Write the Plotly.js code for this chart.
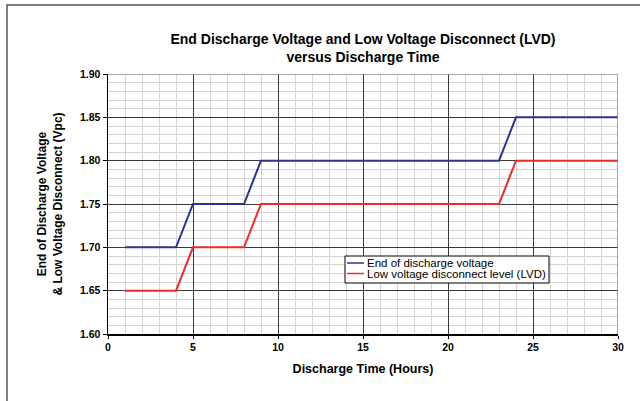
<!DOCTYPE html>
<html>
<head>
<meta charset="utf-8">
<script src="https://cdn.plot.ly/plotly-3.0.1.min.js"></script>
<style>html,body{margin:0;padding:0;background:#fff;}#chart{width:640px;height:401px;}</style>
</head>
<body>
<div id="chart"></div>
<script>
const hours = [1,2,3,4,5,6,7,8,9,10,11,12,13,14,15,16,17,18,19,20,21,22,23,24,25,26,27,28,29,30];
const endDischargeVoltage = [1.70,1.70,1.70,1.70,1.75,1.75,1.75,1.75,1.80,1.80,1.80,1.80,1.80,1.80,1.80,1.80,1.80,1.80,1.80,1.80,1.80,1.80,1.80,1.85,1.85,1.85,1.85,1.85,1.85,1.85];
const lvdLevel = [1.65,1.65,1.65,1.65,1.70,1.70,1.70,1.70,1.75,1.75,1.75,1.75,1.75,1.75,1.75,1.75,1.75,1.75,1.75,1.75,1.75,1.75,1.75,1.80,1.80,1.80,1.80,1.80,1.80,1.80];
const seriesNames = ['End of discharge voltage', 'Low voltage disconnect level (LVD)'];
const seriesColors = ['#2E3192', '#EE2A2A'];
const xTickVals = [0,5,10,15,20,25,30];
const yTickVals = [1.60,1.65,1.70,1.75,1.80,1.85,1.90];
const yTickText = ['1.60','1.65','1.70','1.75','1.80','1.85','1.90'];

const FONT = 'Liberation Sans, Arial, sans-serif';

const traces = [
  {x: hours, y: endDischargeVoltage, name: seriesNames[0], type: 'scatter', mode: 'lines',
   line: {color: seriesColors[0], width: 2}, showlegend: false},
  {x: hours, y: lvdLevel, name: seriesNames[1], type: 'scatter', mode: 'lines',
   line: {color: seriesColors[1], width: 2}, showlegend: false}
];

// plot area in pixels: left 108, right 618, top 74, bottom 334
const px = v => (v - 108) / 510;
const py = v => (334 - v) / 260;

// hand-built compact legend (box, sample lines, labels)
const legendShapes = [
  {type: 'rect', xref: 'paper', yref: 'paper', x0: px(345), x1: px(549), y0: py(283), y1: py(256),
   line: {color: '#000', width: 1}, fillcolor: '#fff', layer: 'above'}
];
const legendAnnotations = [];
seriesNames.forEach((name, i) => {
  const yc = 263 + i * 10.5;
  legendShapes.push({type: 'line', xref: 'paper', yref: 'paper', x0: px(347), x1: px(364), y0: py(yc), y1: py(yc),
    line: {color: seriesColors[i], width: 1.5}, layer: 'above'});
  legendAnnotations.push({xref: 'paper', yref: 'paper', x: px(365), y: py(yc), xanchor: 'left', yanchor: 'middle',
    text: name, showarrow: false, font: {family: FONT, size: 11.5, color: '#000'}});
});

const layout = {
  width: 640, height: 401,
  margin: {l: 108, r: 22, t: 74, b: 67},
  paper_bgcolor: '#fff', plot_bgcolor: '#fff',
  font: {family: FONT, color: '#000'},
  showlegend: false,
  title: {
    text: 'End Discharge Voltage and Low Voltage Disconnect (LVD)<br>versus Discharge Time',
    font: {family: FONT, size: 14, weight: 'bold', color: '#000'},
    xref: 'paper', x: 0.5, xanchor: 'center',
    yref: 'container', y: 0.89, yanchor: 'top'
  },
  xaxis: {
    range: [0, 30], tickvals: xTickVals, ticktext: xTickVals.map(String),
    showgrid: true, gridcolor: '#3a3a3a', gridwidth: 1,
    minor: {dtick: 1, tick0: 0, showgrid: true, gridcolor: '#d4d4d4', gridwidth: 1},
    showline: true, linecolor: '#000', linewidth: 1.5,
    ticks: 'outside', ticklen: 3, tickcolor: '#000', tickwidth: 1,
    tickfont: {family: FONT, size: 10.5, weight: 'bold', color: '#000'},
    zeroline: false, automargin: false,
    title: {text: 'Discharge Time (Hours)', standoff: 12,
            font: {family: FONT, size: 12.5, weight: 'bold', color: '#000'}}
  },
  yaxis: {
    range: [1.60, 1.90], tickvals: yTickVals, ticktext: yTickText,
    showgrid: true, gridcolor: '#3a3a3a', gridwidth: 1,
    minor: {dtick: 0.01, tick0: 1.60, showgrid: true, gridcolor: '#d4d4d4', gridwidth: 1},
    showline: true, linecolor: '#000', linewidth: 1.5,
    ticks: 'outside', ticklen: 4, tickcolor: '#000', tickwidth: 1,
    tickfont: {family: FONT, size: 10.5, weight: 'bold', color: '#000'},
    zeroline: false, automargin: false,
    title: {text: 'End of Discharge Voltage<br>& Low Voltage Disconnect (Vpc)', standoff: 15,
            font: {family: FONT, size: 12, weight: 'bold', color: '#000'}}
  },
  annotations: legendAnnotations,
  shapes: [
    {type: 'line', xref: 'x', yref: 'y', x0: 0, x1: 30, y0: 1.90, y1: 1.90, line: {color: '#888', width: 1.5}},
    {type: 'line', xref: 'x', yref: 'y', x0: 30, x1: 30, y0: 1.60, y1: 1.90, line: {color: '#888', width: 1.5}},
    {type: 'rect', xref: 'paper', yref: 'paper', x0: px(7), x1: px(660), y0: py(420), y1: py(5),
     line: {color: '#555', width: 1.5}, fillcolor: 'rgba(0,0,0,0)', layer: 'below'}
  ].concat(legendShapes)
};

Plotly.newPlot('chart', traces, layout, {displayModeBar: false, staticPlot: true});
</script>
</body>
</html>
